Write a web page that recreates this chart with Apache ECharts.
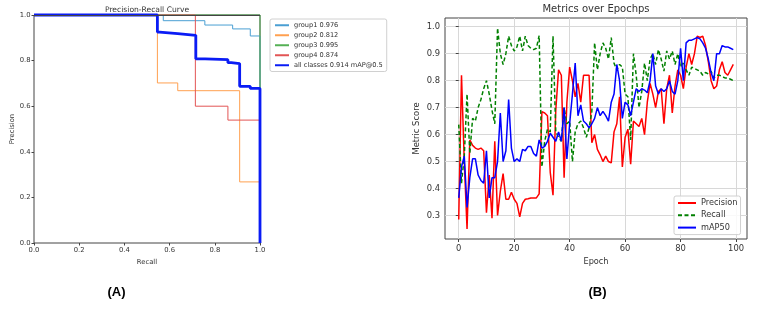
<!DOCTYPE html>
<html><head><meta charset="utf-8">
<script src="https://cdn.jsdelivr.net/npm/echarts@6/dist/echarts.min.js"></script>
<style>html,body{margin:0;padding:0;background:#fff}#c{width:769px;height:321px}</style>
</head><body><div id="c"></div>
<script>
// ---------- Panel A: Precision-Recall curves (step curves) ----------
const g1Recall    = [0, 0.572, 0.756, 0.879, 0.957, 1.0, 1.0];
const g1Precision = [1.0, 0.975, 0.956, 0.939, 0.908, 0.908, 0.0];
const g2Recall    = [0, 0.546, 0.636, 0.910, 1.0, 1.0];
const g2Precision = [1.0, 0.702, 0.668, 0.268, 0.268, 0.0];
const g3Recall    = [0, 1.0, 1.0];
const g3Precision = [1.0, 1.0, 0.0];
const g4Recall    = [0, 0.714, 0.858, 1.0, 1.0];
const g4Precision = [1.0, 0.600, 0.539, 0.539, 0.0];
const allRecall    = [0, 0.546, 0.556, 0.636, 0.716, 0.757, 0.858, 0.873, 0.910, 0.957, 1.0, 1.0];
const allPrecision = [1.0, 0.925, 0.918, 0.911, 0.808, 0.804, 0.791, 0.787, 0.687, 0.678, 0.678, 0.0];
const prNames = ['group1 0.976', 'group2 0.812', 'group3 0.995', 'group4 0.874', 'all classes 0.914 mAP@0.5'];

// ---------- Panel B: metrics over epochs ----------
const precision = [
0.285, 0.82, 0.50, 0.25, 0.58, 0.56, 0.55, 0.545, 0.55, 0.54,
0.31, 0.45, 0.29, 0.575, 0.30, 0.39, 0.455, 0.36, 0.36, 0.386,
0.36, 0.345, 0.295, 0.345, 0.36, 0.362, 0.365, 0.365, 0.365, 0.38,
0.685, 0.68, 0.67, 0.46, 0.375, 0.69, 0.84, 0.82, 0.44, 0.72,
0.85, 0.80, 0.74, 0.79, 0.72, 0.82, 0.82, 0.82, 0.57, 0.60,
0.545, 0.525, 0.50, 0.52, 0.50, 0.495, 0.61, 0.64, 0.74, 0.48,
0.59, 0.62, 0.49, 0.65, 0.64, 0.63, 0.66, 0.60, 0.72, 0.79,
0.75, 0.70, 0.76, 0.77, 0.64, 0.77, 0.82, 0.68, 0.78, 0.84,
0.82, 0.77, 0.85, 0.90, 0.86, 0.90, 0.965, 0.96, 0.965, 0.93,
0.87, 0.80, 0.77, 0.78, 0.84, 0.87, 0.83, 0.82, 0.84, 0.86];
const recall = [
0.637, 0.42, 0.52, 0.75, 0.53, 0.66, 0.65, 0.70, 0.73, 0.77,
0.80, 0.75, 0.69, 0.64, 0.995, 0.90, 0.86, 0.90, 0.965, 0.93,
0.91, 0.925, 0.965, 0.91, 0.965, 0.93, 0.92, 0.915, 0.92, 0.967,
0.48, 0.575, 0.62, 0.61, 0.965, 0.61, 0.59, 0.575, 0.70, 0.64,
0.65, 0.50, 0.61, 0.64, 0.65, 0.625, 0.59, 0.625, 0.686, 0.94,
0.84, 0.90, 0.94, 0.92, 0.88, 0.96, 0.865, 0.84, 0.86, 0.85,
0.75, 0.74, 0.58, 0.90, 0.82, 0.70, 0.76, 0.865, 0.80, 0.88,
0.90, 0.86, 0.915, 0.88, 0.835, 0.91, 0.88, 0.91, 0.86, 0.90,
0.85, 0.87, 0.84, 0.82, 0.85, 0.845, 0.84, 0.835, 0.82, 0.83,
0.825, 0.835, 0.81, 0.82, 0.82, 0.815, 0.81, 0.81, 0.805, 0.80];
const map50 = [
0.365, 0.48, 0.52, 0.33, 0.44, 0.51, 0.51, 0.45, 0.43, 0.42,
0.54, 0.365, 0.44, 0.44, 0.50, 0.68, 0.50, 0.54, 0.73, 0.55,
0.50, 0.51, 0.50, 0.545, 0.54, 0.556, 0.556, 0.53, 0.52, 0.58,
0.55, 0.556, 0.575, 0.605, 0.59, 0.575, 0.61, 0.575, 0.70, 0.51,
0.64, 0.75, 0.865, 0.67, 0.71, 0.65, 0.64, 0.625, 0.64, 0.66,
0.70, 0.67, 0.686, 0.67, 0.65, 0.72, 0.75, 0.86, 0.80, 0.66,
0.72, 0.71, 0.67, 0.72, 0.77, 0.76, 0.77, 0.765, 0.755, 0.80,
0.90, 0.78, 0.75, 0.77, 0.76, 0.77, 0.80, 0.76, 0.75, 0.80,
0.92, 0.80, 0.94, 0.95, 0.95, 0.955, 0.96, 0.955, 0.94, 0.92,
0.88, 0.83, 0.80, 0.90, 0.90, 0.93, 0.925, 0.925, 0.92, 0.915];
const epochTicks = [0, 20, 40, 60, 80, 100];
const scoreTicks = [0.3, 0.4, 0.5, 0.6, 0.7, 0.8, 0.9, 1.0];
const metricNames = ['Precision', 'Recall', 'mAP50'];

// matplotlib-style 5% autoscale margins
const nEp = precision.length;
const xPad = (nEp - 1) * 0.05;
const allVals = precision.concat(recall, map50);
const yLo = Math.min(...allVals), yHi = Math.max(...allVals);
const yPad = (yHi - yLo) * 0.05;

const FONT = '"DejaVu Sans", sans-serif';
const TXT = '#333';
const pairs = (xs, ys) => xs.map((x, i) => [x, ys[i]]);
const epochData = arr => arr.map((v, i) => [i, v]);
const onTick = (v, ticks) => ticks.some(t => Math.abs(t - v) < 1e-6);

const gridA = {left: 34, top: 15, width: 226, height: 228};
const gridB = {left: 445, top: 18, width: 302, height: 221};

const chart = echarts.init(document.getElementById('c'), null, {renderer: 'canvas'});
chart.setOption({
  animation: false,
  backgroundColor: '#fff',
  title: [
    {text: 'Precision-Recall Curve', left: 147, top: 6, padding: 0, textAlign: 'center',
     textStyle: {fontFamily: FONT, fontSize: 7.6, fontWeight: 'normal', color: TXT}},
    {text: 'Metrics over Epochps', left: 596, top: 4.5, padding: 0, textAlign: 'center',
     textStyle: {fontFamily: FONT, fontSize: 10, fontWeight: 'normal', color: TXT}},
    {text: '(A)', left: 116.5, top: 285.5, padding: 0, textAlign: 'center',
     textStyle: {fontFamily: '"Liberation Sans", Arial, sans-serif', fontSize: 13, fontWeight: 'bold', color: '#000'}},
    {text: '(B)', left: 597.5, top: 285.5, padding: 0, textAlign: 'center',
     textStyle: {fontFamily: '"Liberation Sans", Arial, sans-serif', fontSize: 13, fontWeight: 'bold', color: '#000'}}
  ],
  grid: [
    Object.assign({show: true, borderColor: '#444', borderWidth: 1, backgroundColor: 'transparent'}, gridA),
    Object.assign({show: true, borderColor: '#444', borderWidth: 1, backgroundColor: 'transparent'}, gridB)
  ],
  graphic: [
    // top spine of panel A drawn above the curves (as matplotlib does)
    {type: 'line', z: 100, silent: true,
     shape: {x1: gridA.left, y1: gridA.top + 0.5, x2: gridA.left + gridA.width, y2: gridA.top + 0.5},
     style: {stroke: '#444', lineWidth: 1}}
  ],
  legend: [
    {data: prNames, orient: 'vertical', left: 270, top: 19, padding: [2, 4, 2, 4],
     itemWidth: 14, itemHeight: 1, itemGap: 1.5,
     borderColor: '#d0d0d0', borderWidth: 1, borderRadius: 2, backgroundColor: '#fff',
     textStyle: {fontFamily: FONT, fontSize: 6.6, color: TXT, lineHeight: 8.5}},
    {data: metricNames, orient: 'vertical', left: 674, top: 196, padding: [2, 3, 2, 3],
     itemWidth: 18, itemHeight: 1, itemGap: 2.3,
     borderColor: '#d0d0d0', borderWidth: 1, borderRadius: 2, backgroundColor: 'rgba(255,255,255,0.85)',
     textStyle: {fontFamily: FONT, fontSize: 8.2, color: TXT, lineHeight: 10}}
  ],
  xAxis: [
    {gridIndex: 0, type: 'value', min: 0, max: 1, interval: 0.2,
     name: 'Recall', nameLocation: 'middle', nameGap: 11,
     nameTextStyle: {fontFamily: FONT, fontSize: 6.8, color: TXT},
     axisLine: {show: false}, splitLine: {show: false},
     axisTick: {show: true, inside: false, length: 2.5, lineStyle: {color: '#444'}},
     axisLabel: {fontFamily: FONT, fontSize: 6.8, color: TXT, margin: 3.5, formatter: v => v.toFixed(1)}},
    {gridIndex: 1, type: 'value', min: -xPad, max: nEp - 1 + xPad, splitNumber: 5,
     name: 'Epoch', nameLocation: 'middle', nameGap: 16,
     nameTextStyle: {fontFamily: FONT, fontSize: 8.2, color: TXT},
     axisLine: {show: false},
     splitLine: {show: true, lineStyle: {color: '#d8d8d8', width: 1}},
     axisTick: {show: true, inside: false, length: 3, customValues: epochTicks, lineStyle: {color: '#444'}},
     axisLabel: {fontFamily: FONT, fontSize: 8.4, color: TXT, margin: 6, customValues: epochTicks,
       formatter: v => onTick(v, epochTicks) ? String(Math.round(v)) : ''}}
  ],
  yAxis: [
    {gridIndex: 0, type: 'value', min: 0, max: 1, interval: 0.2,
     name: 'Precision', nameLocation: 'middle', nameGap: 16,
     nameTextStyle: {fontFamily: FONT, fontSize: 6.8, color: TXT},
     axisLine: {show: false}, splitLine: {show: false},
     axisTick: {show: true, inside: false, length: 2.5, lineStyle: {color: '#444'}},
     axisLabel: {fontFamily: FONT, fontSize: 6.8, color: TXT, margin: 3.5, formatter: v => v.toFixed(1)}},
    {gridIndex: 1, type: 'value', min: yLo - yPad, max: yHi + yPad, splitNumber: 8,
     name: 'Metric Score', nameLocation: 'middle', nameGap: 24,
     nameTextStyle: {fontFamily: FONT, fontSize: 8.4, color: TXT},
     axisLine: {show: false},
     splitLine: {show: true, lineStyle: {color: '#d8d8d8', width: 1}},
     axisTick: {show: true, inside: false, length: 3, customValues: scoreTicks, lineStyle: {color: '#444'}},
     axisLabel: {fontFamily: FONT, fontSize: 8.4, color: TXT, margin: 5, customValues: scoreTicks,
       formatter: v => onTick(v, scoreTicks) ? v.toFixed(1) : ''}}
  ],
  series: [
    {name: prNames[0], type: 'line', xAxisIndex: 0, yAxisIndex: 0, step: 'end', symbol: 'none', clip: false,
     data: pairs(g1Recall, g1Precision), lineStyle: {color: '#4a9fd3', width: 1}, itemStyle: {color: '#4a9fd3'}},
    {name: prNames[1], type: 'line', xAxisIndex: 0, yAxisIndex: 0, step: 'end', symbol: 'none', clip: false,
     data: pairs(g2Recall, g2Precision), lineStyle: {color: '#ffa050', width: 1}, itemStyle: {color: '#ffa050'}},
    {name: prNames[2], type: 'line', xAxisIndex: 0, yAxisIndex: 0, step: 'end', symbol: 'none', clip: false,
     data: pairs(g3Recall, g3Precision), lineStyle: {color: '#55b055', width: 1}, itemStyle: {color: '#55b055'}},
    {name: prNames[3], type: 'line', xAxisIndex: 0, yAxisIndex: 0, step: 'end', symbol: 'none', clip: false,
     data: pairs(g4Recall, g4Precision), lineStyle: {color: '#e25555', width: 1}, itemStyle: {color: '#e25555'}},
    {name: prNames[4], type: 'line', xAxisIndex: 0, yAxisIndex: 0, step: 'end', symbol: 'none', clip: false,
     data: pairs(allRecall, allPrecision), lineStyle: {color: '#0a1cf5', width: 2.8}, itemStyle: {color: '#0a1cf5'}},

    {name: metricNames[0], type: 'line', xAxisIndex: 1, yAxisIndex: 1, symbol: 'none',
     data: epochData(precision), lineStyle: {color: '#ff0000', width: 1.5}, itemStyle: {color: '#ff0000'}},
    {name: metricNames[1], type: 'line', xAxisIndex: 1, yAxisIndex: 1, symbol: 'none',
     data: epochData(recall), lineStyle: {color: '#008000', width: 1.5, type: [4, 2.5]}, itemStyle: {color: '#008000'}},
    {name: metricNames[2], type: 'line', xAxisIndex: 1, yAxisIndex: 1, symbol: 'none',
     data: epochData(map50), lineStyle: {color: '#0000ff', width: 1.5}, itemStyle: {color: '#0000ff'}}
  ]
});
</script>
</body></html>
